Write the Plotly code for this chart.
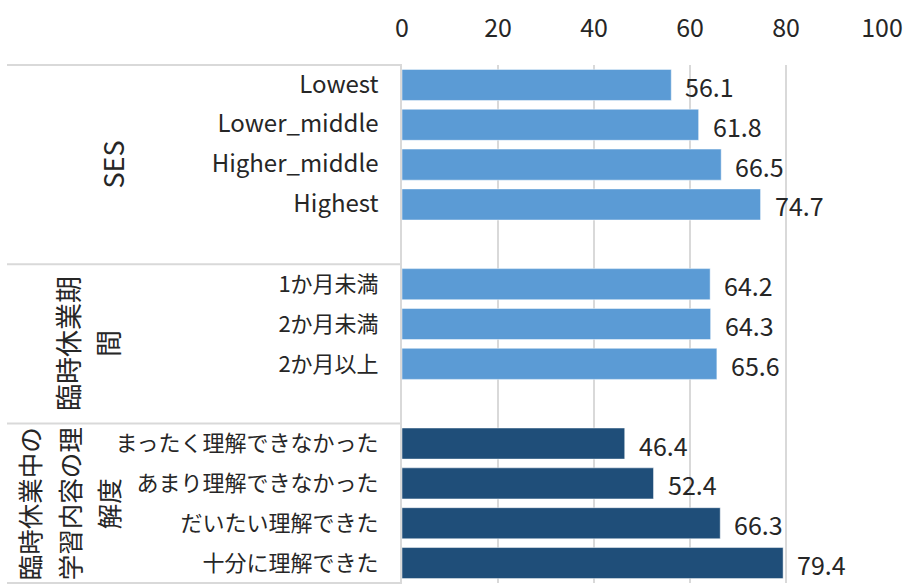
import plotly.graph_objects as go

# ---- data ----
ses_labels = ["Lowest", "Lower_middle", "Higher_middle", "Highest"]
ses_values = [56.1, 61.8, 66.5, 74.7]

period_labels = ["1か月未満", "2か月未満", "2か月以上"]
period_values = [64.2, 64.3, 65.6]

understanding_labels = ["まったく理解できなかった", "あまり理解できなかった", "だいたい理解できた", "十分に理解できた"]
understanding_values = [46.4, 52.4, 66.3, 79.4]

group_titles = [["SES"], ["臨時休業期", "間"], ["臨時休業中の", "学習内容の理", "解度"]]
x_ticks = [0, 20, 40, 60, 80, 100]

# ---- style ----
FONT = "Noto Sans CJK JP, Noto Sans, sans-serif"
TXT = "#262626"
GRID = "#D9D9D9"
LIGHT = "#5B9BD5"
DARK = "#1F4E79"
W, H = 906, 584
PLOT_L, PLOT_R, PLOT_T, PLOT_B = 402, 882, 65, 583
ML, MR, MT, MB = PLOT_L, W - PLOT_R, PLOT_T, H - PLOT_B
FS_CJK = 22
FS_LAT = 24
FS_NUM = 25
FS_GRP = [27, 27, 25.5]

spacers = [" ", "  "]
cat_order = ses_labels + [spacers[0]] + period_labels + [spacers[1]] + understanding_labels
n_slots = len(cat_order)
tick_text = [f'<span style="font-size:{FS_LAT}px">{c}</span>' if c in ses_labels else c for c in cat_order]

fig = go.Figure()
groups = [(ses_labels, ses_values, LIGHT), (period_labels, period_values, LIGHT),
          (understanding_labels, understanding_values, DARK)]
for labels, vals, col in groups:
    fig.add_trace(go.Bar(
        y=labels, x=vals, orientation="h",
        marker=dict(color=col, line=dict(width=0.8, color="rgba(255,255,255,0.6)")),
        hoverinfo="x+y", showlegend=False,
    ))
    for lab, v in zip(labels, vals):
        fig.add_annotation(x=v, y=lab, xref="x", yref="y", text=f"{v:.1f}",
                           showarrow=False, xanchor="left", xshift=12, yshift=-1,
                           font=dict(family=FONT, size=FS_NUM, color=TXT))

# group separators (slot boundaries)
sizes = [len(ses_labels) + 1, len(period_labels) + 1, len(understanding_labels)]
bounds = [0]
for s in sizes:
    bounds.append(bounds[-1] + s)
plot_w = PLOT_R - PLOT_L
left_paper = (7 - ML) / plot_w
for b in bounds:
    yp = 1 - b / n_slots
    fig.add_shape(type="line", xref="paper", yref="paper", x0=left_paper, x1=0,
                  y0=yp, y1=yp, line=dict(color=GRID, width=2))

# group titles (rotated)
line_x = {1: [113 - 402], 2: [68 - 402, 108 - 402], 3: [28 - 402, 68 - 402, 107 - 402]}
title_yshift = [0, 0, -1]
for gi, title_lines in enumerate(group_titles):
    yc = 1 - (bounds[gi] + bounds[gi + 1]) / 2 / n_slots
    xs = line_x[len(title_lines)]
    for t, xs_ in zip(title_lines, xs):
        fig.add_annotation(x=0, y=yc, xref="paper", yref="paper", text=t,
                           textangle=-90, showarrow=False, xanchor="center", yanchor="middle",
                           xshift=xs_, yshift=title_yshift[gi],
                           font=dict(family=FONT, size=FS_GRP[gi], color=TXT))

fig.update_layout(
    width=W, height=H, margin=dict(l=ML, r=MR, t=MT, b=MB),
    paper_bgcolor="white", plot_bgcolor="white", barmode="relative", bargap=0.22,
    font=dict(family=FONT, size=FS_CJK, color=TXT),
    xaxis=dict(side="top", range=[0, 100], tickvals=x_ticks, showgrid=True,
               gridcolor=GRID, gridwidth=2, zeroline=False, showline=False,
               ticks="", ticklabelstandoff=22, tickfont=dict(size=FS_NUM, color=TXT), fixedrange=True),
    yaxis=dict(type="category", categoryorder="array", categoryarray=cat_order,
               tickvals=cat_order, ticktext=tick_text,
               range=[n_slots - 0.5, -0.5], showgrid=False, zeroline=False,
               showline=True, linecolor=GRID, linewidth=2, ticks="",
               ticklabelstandoff=17, tickfont=dict(size=FS_CJK, color=TXT), fixedrange=True),
)

fig.write_html("out.html", config={"displayModeBar": False},
               post_script="document.body.style.margin='0';document.body.style.overflow='hidden';")
